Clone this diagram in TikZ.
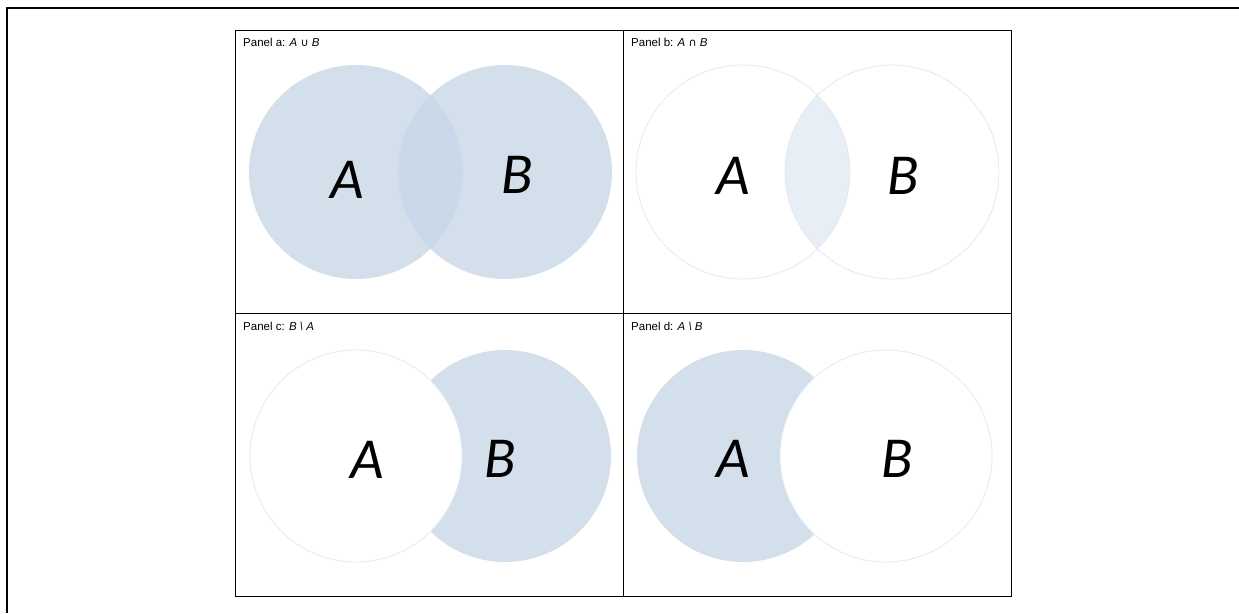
\documentclass[tikz,border=0pt]{standalone}
\usepackage{fontspec}
\setmainfont{Liberation Sans}
\newfontfamily\setletterfont{Carlito}
\newfontfamily\opfont{DejaVu Sans}
\definecolor{setfill}{HTML}{D3E0EC}
\definecolor{setboth}{HTML}{C9D9E9}
\definecolor{setpale}{HTML}{E8EEF6}
\definecolor{setedge}{HTML}{E3E9F2}
\begin{document}
\begin{tikzpicture}[x=1pt,y=-1pt,
  letter/.style={font=\setletterfont\itshape\fontsize{58}{58}\selectfont, inner sep=0pt},
  caption/.style={font=\fontsize{11.5}{13}\selectfont, anchor=base west, inner sep=0pt},
  outline/.style={draw=setedge, line width=0.8pt},
  grid/.style={draw=black, line width=0.8pt}]
\useasboundingbox (0,0) rectangle (1239,613);

% outer frame (top and left edges)
\draw[line width=2pt] (7,613) -- (7,8) -- (1239,8);

% ---- Panel a: union ----
\fill[setfill] (356,172) circle[radius=107pt];
\fill[setfill] (505,172) circle[radius=107pt];
\begin{scope}
  \clip (356,172) circle[radius=107pt];
  \fill[setboth] (505,172) circle[radius=107pt];
\end{scope}
\node[letter] (aA) at (347,180) {A};
\node[letter] (aB) at (517,175) {B};

% ---- Panel b: intersection ----
\begin{scope}
  \clip (743,172) circle[radius=107pt];
  \fill[setpale] (892,172) circle[radius=107pt];
\end{scope}
\draw[outline] (743,172) circle[radius=107pt];
\draw[outline] (892,172) circle[radius=107pt];
\node[letter] (bA) at (733,176) {A};
\node[letter] (bB) at (903,176) {B};

% ---- Panel c: B minus A ----
\fill[setfill] (505,456) circle[radius=106pt];
\filldraw[fill=white, outline] (356,456) circle[radius=106pt];
\node[letter] (cA) at (367,460) {A};
\node[letter] (cB) at (500,459) {B};

% ---- Panel d: A minus B ----
\fill[setfill] (743,456) circle[radius=106pt];
\filldraw[fill=white, outline] (886,456) circle[radius=106pt];
\node[letter] (dA) at (733,459) {A};
\node[letter] (dB) at (897,459) {B};

% ---- panel grid ----
\draw[grid] (235,30) rectangle (1011,596);
\draw[grid] (623,30) -- (623,596);
\draw[grid] (235,313) -- (1011,313);

% ---- panel captions ----
\node[caption] (capa) at (243,46) {Panel a: \textit{A} {\opfont\fontsize{11}{13}\selectfont ∪} \textit{B}};
\node[caption] (capb) at (631,46) {Panel b: \textit{A} {\opfont\fontsize{11}{13}\selectfont ∩} \textit{B}};
\node[caption] (capc) at (243,330) {Panel c: \textit{B} \textit{\textbackslash} \textit{A}};
\node[caption] (capd) at (631,330) {Panel d: \textit{A} \textit{\textbackslash} \textit{B}};
\end{tikzpicture}
\end{document}
